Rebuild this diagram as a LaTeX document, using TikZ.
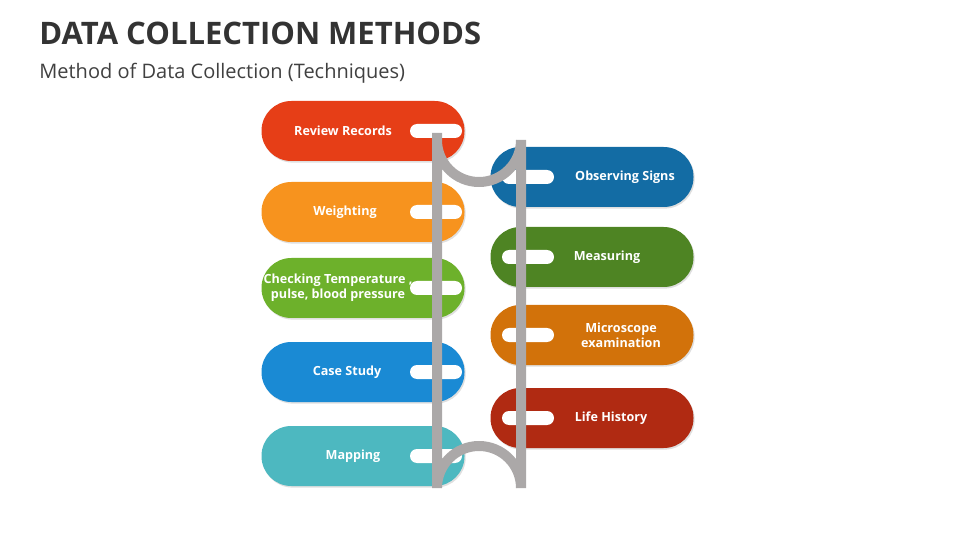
\documentclass[tikz,border=0pt]{standalone}
\usepackage{fontspec}
\setmainfont{Open Sans}
\usetikzlibrary{shadows}
\definecolor{rodgray}{HTML}{ABA8A8}
\definecolor{cReview}{HTML}{E63E17}
\definecolor{cWeight}{HTML}{F7931E}
\definecolor{cCheck}{HTML}{6DB12B}
\definecolor{cCase}{HTML}{1A8AD4}
\definecolor{cMap}{HTML}{4DB8C0}
\definecolor{cObserve}{HTML}{136CA4}
\definecolor{cMeasure}{HTML}{4E8423}
\definecolor{cMicro}{HTML}{D2720A}
\definecolor{cLife}{HTML}{B02A12}
\tikzset{
  pill/.style={rectangle, rounded corners=14.9pt, minimum width=101.5pt, minimum height=30pt,
    inner sep=0pt, draw=none, drop shadow={shadow xshift=0.6pt, shadow yshift=-0.8pt, opacity=0.25}},
  slot/.style={rectangle, rounded corners=3.5pt, fill=white, minimum width=26pt, minimum height=7pt, inner sep=0pt},
  pilltext/.style={text=white, font=\fontsize{6.3}{7.6}\selectfont\bfseries, align=center},
  rod/.style={draw=rodgray, line width=5pt}
}
\begin{document}
\begin{tikzpicture}[x=0.5pt, y=-0.5pt]
  \useasboundingbox (0,0) rectangle (960,540);
  \node[anchor=base west, inner sep=0pt, font=\fontsize{15.5}{18}\selectfont\bfseries, text=black!80] (title) at (39,45) {DATA COLLECTION METHODS};
  \node[anchor=west, inner sep=0pt, font=\fontsize{10}{12}\selectfont, text=black!75] (subtitle) at (39,73) {Method of Data Collection (Techniques)};
  % left column
  \foreach \nm/\y/\col/\tx/\txt in {review/131/cReview/343/Review Records,
      weight/212/cWeight/345/Weighting,
      check/288/cCheck/338/{Checking Temperature ,\\pulse, blood pressure},
      case/372/cCase/347/Case Study,
      map/456/cMap/353/Mapping}{
    \node[pill, fill=\col] (\nm) at (363,\y) {};
    \node[slot] (\nm-slot) at (436,\y) {};
    \node[pilltext] (\nm-text) at (\tx,\y) {\txt};
  }
  % right column
  \foreach \nm/\y/\col/\tx/\txt in {observe/177/cObserve/625/Observing Signs,
      measure/257/cMeasure/607/Measuring,
      micro/335/cMicro/621/{Microscope\\examination},
      life/418/cLife/611/Life History}{
    \node[pill, fill=\col] (\nm) at (592,\y) {};
    \node[slot] (\nm-slot) at (528,\y) {};
    \node[pilltext] (\nm-text) at (\tx,\y) {\txt};
  }
  % the loop threaded through the slots
  \draw[rod] (437,133) -- (437,140) arc[start angle=180, end angle=0, radius=42] -- (521,488)
    arc[start angle=0, end angle=-180, radius=42] -- (437,133);
\end{tikzpicture}
\end{document}
